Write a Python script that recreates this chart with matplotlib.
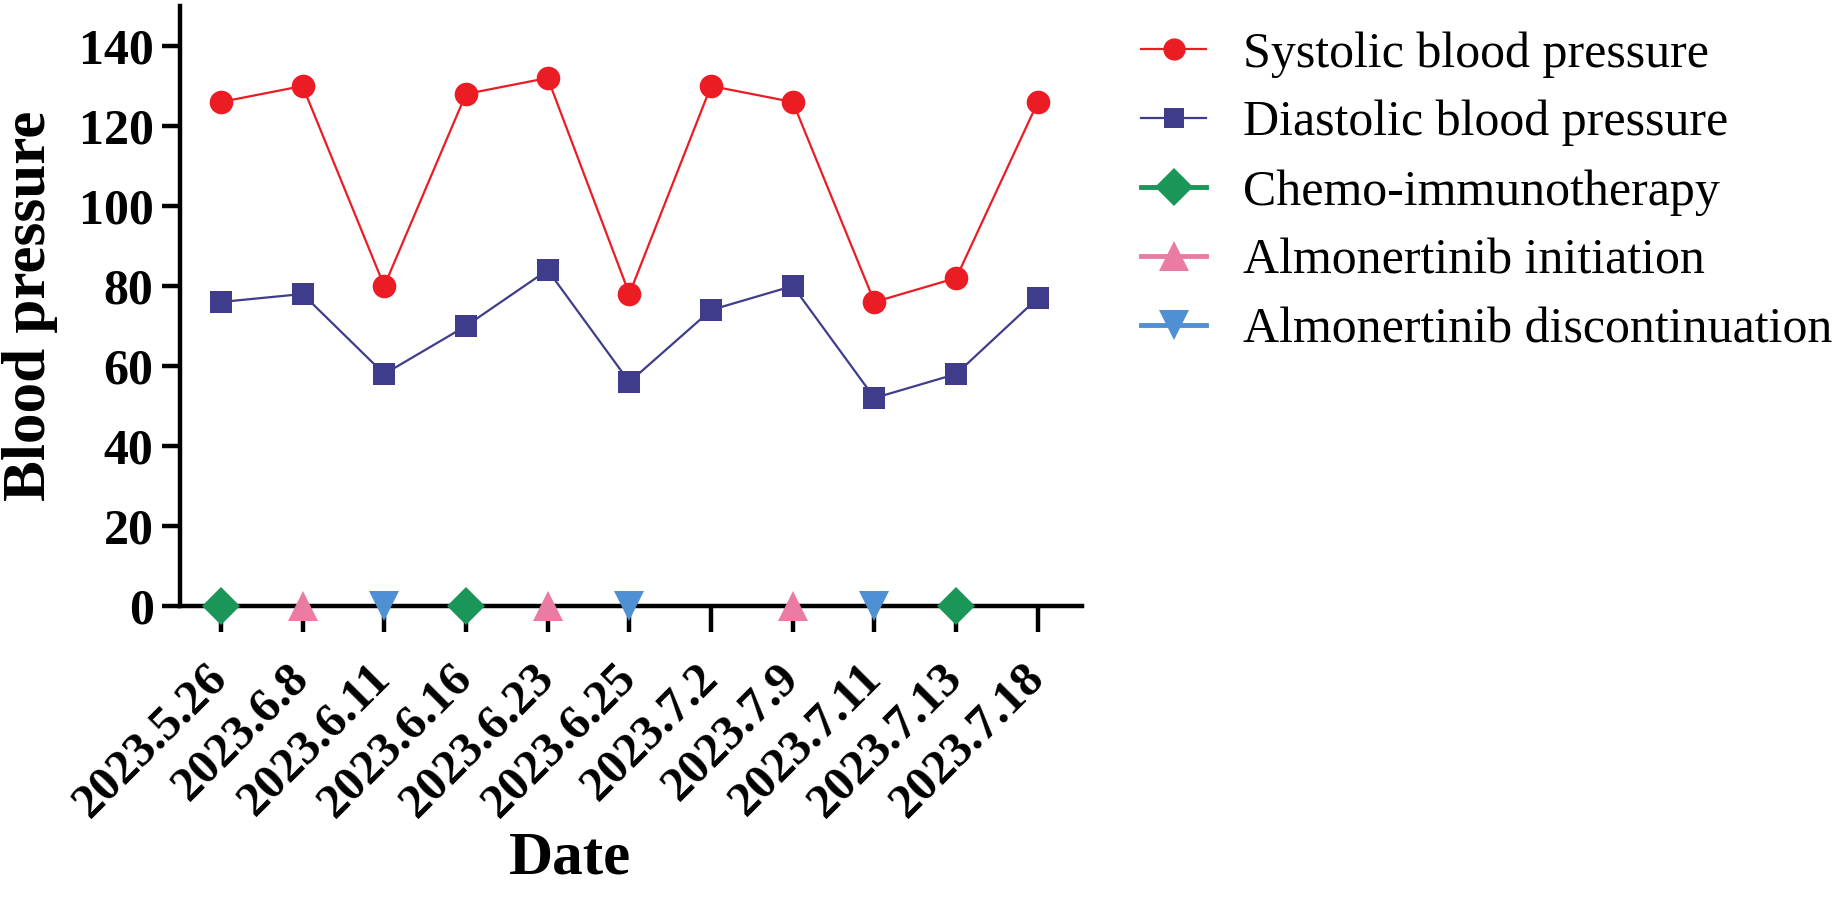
import numpy as np
import matplotlib
matplotlib.use('Agg')
import matplotlib.pyplot as plt
from matplotlib.lines import Line2D

# data
dates = ['2023.5.26', '2023.6.8', '2023.6.11', '2023.6.16', '2023.6.23', '2023.6.25',
         '2023.7.2', '2023.7.9', '2023.7.11', '2023.7.13', '2023.7.18']
systolic = [126, 130, 80, 128, 132, 78, 130, 126, 76, 82, 126]
diastolic = [76, 78, 58, 70, 84, 56, 74, 80, 52, 58, 77]
chemo_idx = [0, 3, 9]
start_idx = [1, 4, 7]
stop_idx = [2, 5, 8]
event_level = 0

red = '#ec1c24'
navy = '#3f3d8b'
green = '#1a9659'
pink = '#ea7ba3'
blue = '#4f8fd3'

plt.rcParams['font.family'] = ['Liberation Serif', 'DejaVu Serif']

fig = plt.figure(figsize=(18.47, 8.97), dpi=100)
ax = fig.add_axes([180 / 1847, 1 - 606 / 897, (1082 - 180) / 1847, 600 / 897])

x = np.arange(len(dates))
ax.plot(x, systolic, '-', color=red, lw=1.6, marker='o', ms=17, mec=red, mew=0)
ax.plot(x, diastolic, '-', color=navy, lw=1.6, marker='s', ms=16, mec=navy, mew=0)

ax.plot(x[chemo_idx], [event_level] * len(chemo_idx), 'D', color=green, ms=19, mew=0,
        clip_on=False, zorder=5)
ax.plot(x[start_idx], [event_level] * len(start_idx), '^', color=pink, ms=21, mew=0,
        clip_on=False, zorder=5)
ax.plot(x[stop_idx], [event_level] * len(stop_idx), 'v', color=blue, ms=21, mew=0,
        clip_on=False, zorder=5)

ax.set_xlim(-0.5, 10.54)
ax.set_ylim(0, 150)
ax.set_yticks(np.arange(0, 141, 20))
ax.set_xticks(x)
ax.set_xticklabels(dates)

for side in ['top', 'right']:
    ax.spines[side].set_visible(False)
for side in ['left', 'bottom']:
    ax.spines[side].set_linewidth(3.2)

ax.tick_params(axis='y', direction='out', length=13, width=3.2, pad=6, labelsize=36)
ax.tick_params(axis='x', direction='out', length=19, width=3.2, pad=28, labelsize=35.5)
for lab in ax.get_yticklabels():
    lab.set_fontweight('bold')
for lab in ax.get_xticklabels():
    lab.set_fontweight('bold')
    lab.set_rotation(45)
    lab.set_ha('right')
    lab.set_va('center')
    lab.set_rotation_mode('anchor')

ax.set_ylabel('Blood pressure', fontsize=44, fontweight='bold')
ax.yaxis.set_label_coords(-0.135, 0.5)
ax.set_xlabel('Date', fontsize=44, fontweight='bold')
ax.xaxis.set_label_coords(0.432, -0.374)

handles = [
    Line2D([], [], color=red, lw=1.6, marker='o', ms=16, mew=0),
    Line2D([], [], color=navy, lw=1.6, marker='s', ms=15, mew=0),
    Line2D([], [], color=green, lw=3.5, marker='D', ms=19, mew=0),
    Line2D([], [], color=pink, lw=3.5, marker='^', ms=21, mew=0),
    Line2D([], [], color=blue, lw=3.5, marker='v', ms=21, mew=0),
]
labels = ['Systolic blood pressure', 'Diastolic blood pressure', 'Chemo-immunotherapy',
          'Almonertinib initiation', 'Almonertinib discontinuation']
fig.legend(handles, labels, loc='upper left', bbox_to_anchor=(1141 / 1847, 1 - 31 / 897),
           frameon=False, fontsize=36, borderpad=0, borderaxespad=0,
           handlelength=1.3, handletextpad=0.74, labelspacing=0.45)

fig.savefig('out.png', dpi=100)
